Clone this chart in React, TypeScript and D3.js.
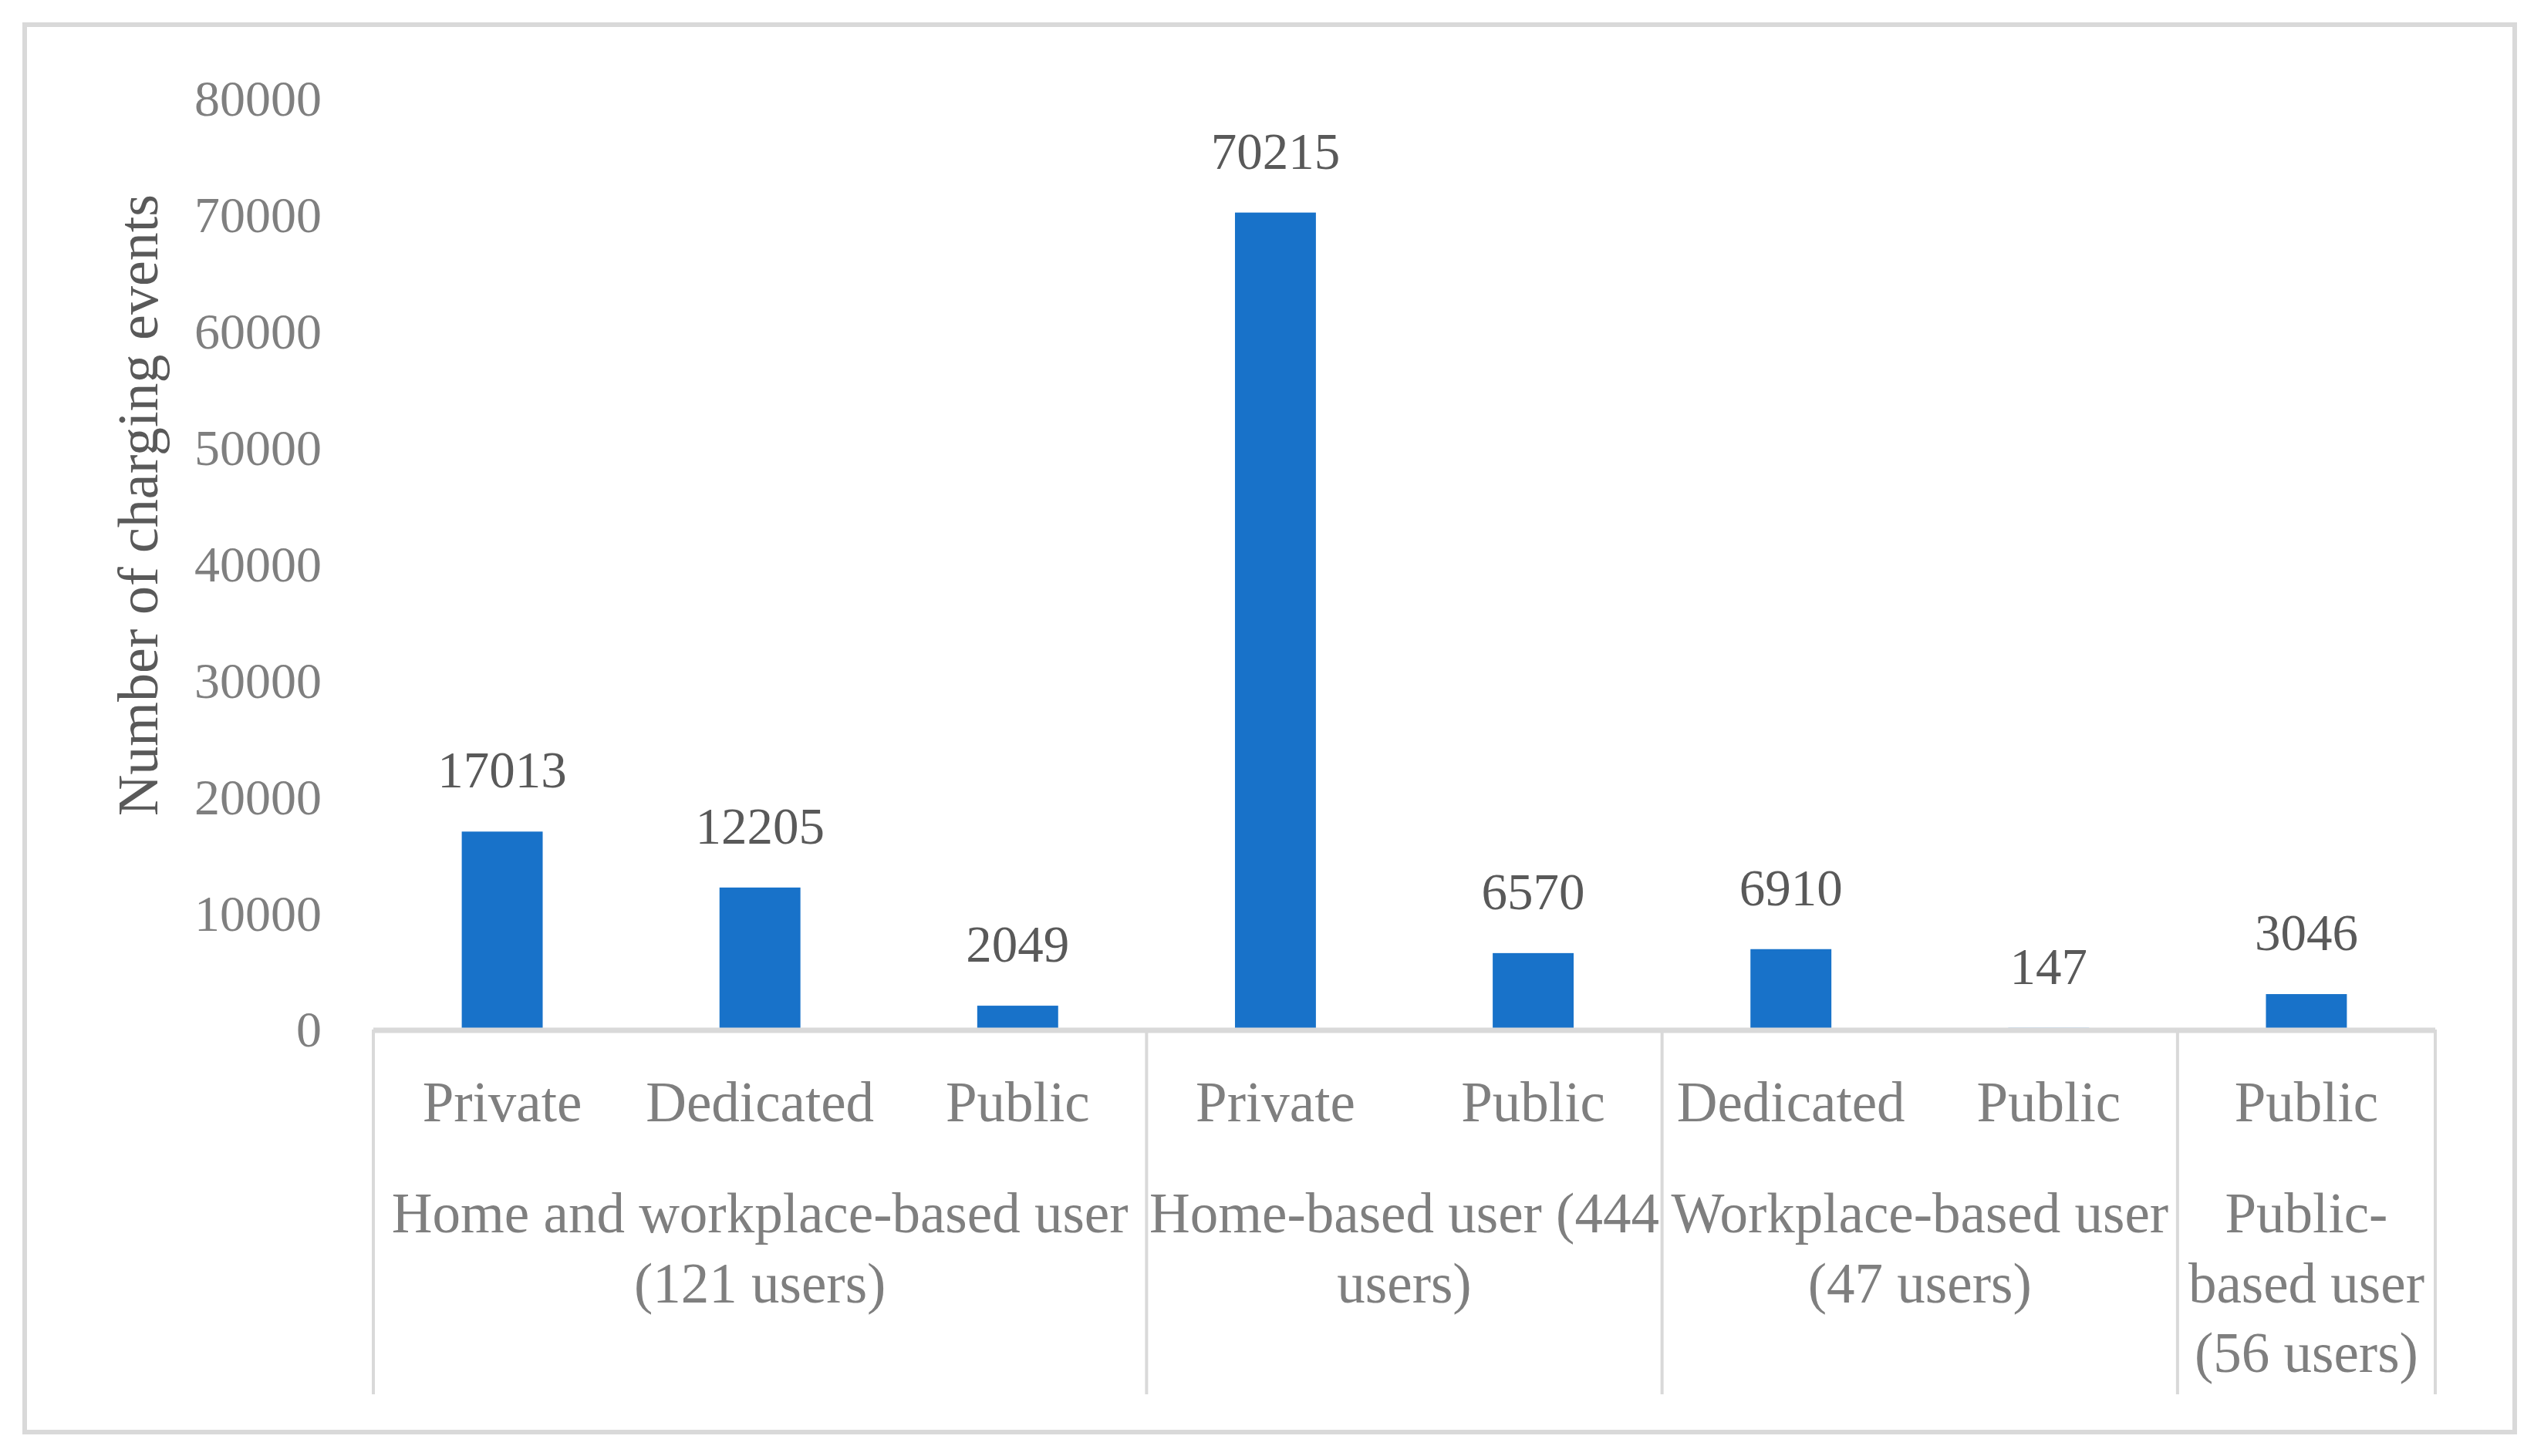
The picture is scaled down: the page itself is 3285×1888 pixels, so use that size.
import { useEffect, useRef } from 'react';
import * as d3 from 'd3';

const categories = ['Private', 'Dedicated', 'Public', 'Private', 'Public', 'Dedicated', 'Public', 'Public'];
const values = [17013, 12205, 2049, 70215, 6570, 6910, 147, 3046];
const groupLabels = [
  ['Home and workplace-based user', '(121 users)'],
  ['Home-based user (444', 'users)'],
  ['Workplace-based user', '(47 users)'],
  ['Public-', 'based user', '(56 users)'],
];
const groupSizes = [3, 2, 2, 1];
const yTicks = [0, 10000, 20000, 30000, 40000, 50000, 60000, 70000, 80000];
const yTitle = 'Number of charging events';

const W = 3285;
const H = 1888;
const FONT = '"Liberation Serif", "Times New Roman", serif';
const GRID = '#d9d9d9';
const BAR = '#1872C9';

export default function App() {
  const svgRef = useRef<SVGSVGElement>(null);

  useEffect(() => {
    if (!svgRef.current) return;
    const svg = d3.select(svgRef.current);
    svg.selectAll('*').remove();

    const left = 484;
    const right = 3157;
    const baseY = 1335;
    const topY = 128;
    const axisBottom = 1808;

    const x = d3
      .scaleBand<number>()
      .domain(d3.range(categories.length))
      .range([left, right])
      .paddingInner(0.686)
      .paddingOuter(0.343);
    const step = x.step();

    const y = d3.scaleLinear().domain([0, 80000]).range([baseY, topY]);

    // outer frame
    svg
      .append('rect')
      .attr('x', 32)
      .attr('y', 32)
      .attr('width', 3228)
      .attr('height', 1825)
      .attr('fill', 'white')
      .attr('stroke', GRID)
      .attr('stroke-width', 6);

    // bars
    svg
      .append('g')
      .selectAll('rect')
      .data(values)
      .enter()
      .append('rect')
      .attr('x', (_, i) => x(i)!)
      .attr('width', x.bandwidth())
      .attr('y', (d) => y(d))
      .attr('height', (d) => baseY - y(d))
      .attr('fill', BAR);

    // data labels
    svg
      .append('g')
      .selectAll('text')
      .data(values)
      .enter()
      .append('text')
      .attr('x', (_, i) => x(i)! + x.bandwidth() / 2)
      .attr('y', (d) => y(d) - 57)
      .attr('text-anchor', 'middle')
      .attr('font-family', FONT)
      .attr('font-size', 67)
      .attr('fill', '#595959')
      .text((d) => String(d));

    // y tick labels
    svg
      .append('g')
      .selectAll('text')
      .data(yTicks)
      .enter()
      .append('text')
      .attr('x', 417)
      .attr('y', (d) => y(d))
      .attr('dy', '0.34em')
      .attr('text-anchor', 'end')
      .attr('font-family', FONT)
      .attr('font-size', 66)
      .attr('fill', '#7f7f7f')
      .text((d) => String(d));

    // y title
    svg
      .append('text')
      .attr('transform', `translate(179, 655) rotate(-90)`)
      .attr('dy', '0.34em')
      .attr('text-anchor', 'middle')
      .attr('font-family', FONT)
      .attr('font-size', 74)
      .attr('fill', '#595959')
      .text(yTitle);

    // x axis line
    svg
      .append('line')
      .attr('x1', left)
      .attr('x2', right)
      .attr('y1', baseY + 1)
      .attr('y2', baseY + 1)
      .attr('stroke', GRID)
      .attr('stroke-width', 7);

    // group dividers
    const bounds = [0];
    groupSizes.forEach((s, i) => bounds.push(bounds[i] + s));
    svg
      .append('g')
      .selectAll('line')
      .data(bounds)
      .enter()
      .append('line')
      .attr('x1', (b) => left + b * step)
      .attr('x2', (b) => left + b * step)
      .attr('y1', baseY)
      .attr('y2', axisBottom)
      .attr('stroke', GRID)
      .attr('stroke-width', 4);

    // category labels
    svg
      .append('g')
      .selectAll('text')
      .data(categories)
      .enter()
      .append('text')
      .attr('x', (_, i) => x(i)! + x.bandwidth() / 2)
      .attr('y', 1454)
      .attr('text-anchor', 'middle')
      .attr('font-family', FONT)
      .attr('font-size', 73)
      .attr('fill', '#7f7f7f')
      .text((d) => d);

    // group labels
    groupLabels.forEach((lines, gi) => {
      const cx = left + ((bounds[gi] + bounds[gi + 1]) / 2) * step;
      const t = svg
        .append('text')
        .attr('text-anchor', 'middle')
        .attr('font-family', FONT)
        .attr('font-size', 73)
        .attr('fill', '#7f7f7f');
      lines.forEach((line, li) => {
        t.append('tspan')
          .attr('x', cx)
          .attr('y', 1598 + li * 90.5)
          .text(line);
      });
    });
  }, []);

  return (
    <svg
      ref={svgRef}
      width={W}
      height={H}
      style={{ position: 'absolute', left: 0, top: 0, background: 'white' }}
    />
  );
}
